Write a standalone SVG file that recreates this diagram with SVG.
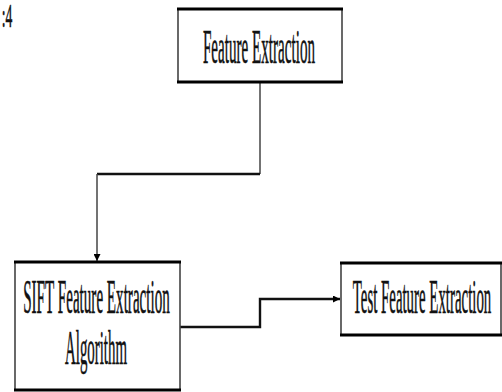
<svg xmlns="http://www.w3.org/2000/svg" width="502" height="392" viewBox="0 0 502 392">
  <style>
    .box { fill: #fff; stroke: #444; stroke-width: 1.6; }
    .edge { stroke: #000; stroke-width: 3.2; }
    .lbl { font-family: "Liberation Serif", "Times New Roman", serif; font-size: 48px; fill: #111; text-anchor: middle; stroke: #111; stroke-width: 0.6; }
    .wire { fill: none; stroke: #111; stroke-width: 2.4; }
    .thin { fill: none; stroke: #444; stroke-width: 1.5; }
  </style>
  <defs>
    <marker id="arrow" viewBox="0 0 10 10" refX="10" refY="5" markerWidth="7" markerHeight="7" markerUnits="userSpaceOnUse" orient="auto">
      <path d="M0,0 L10,5 L0,10 z" fill="#000"/>
    </marker>
  </defs>

  <!-- caption fragment at the top-left corner -->
  <text class="lbl" transform="translate(7,27) scale(0.4,1)" style="font-size:34px">:4</text>

  <g id="connectors">
    <path class="thin" d="M260,82 V174"/>
    <path class="wire" d="M260,174 H97"/>
    <path class="thin" d="M97,174 V261" marker-end="url(#arrow)"/>
    <path class="wire" d="M180,327 H260 V299 H340" marker-end="url(#arrow)"/>
  </g>

  <g id="feature-extraction">
    <rect class="box" x="178" y="9" width="164" height="73"/>
    <line class="edge" x1="177" y1="9" x2="343" y2="9"/>
    <line class="edge" x1="177" y1="82" x2="343" y2="82"/>
    <text class="lbl" transform="translate(259,63) scale(0.315,1)">Feature Extraction</text>
  </g>

  <g id="sift-algorithm">
    <rect class="box" x="15" y="262" width="165" height="128"/>
    <line class="edge" x1="14" y1="262" x2="181" y2="262"/>
    <line class="edge" x1="14" y1="390" x2="181" y2="390"/>
    <text class="lbl" transform="translate(96.5,313) scale(0.315,1)">SIFT Feature Extraction</text>
    <text class="lbl" transform="translate(96,364) scale(0.31,1)">Algorithm</text>
  </g>

  <g id="test-feature-extraction">
    <rect class="box" x="341" y="263" width="160" height="72"/>
    <line class="edge" x1="340" y1="263" x2="502" y2="263"/>
    <line class="edge" x1="340" y1="335" x2="502" y2="335"/>
    <text class="lbl" transform="translate(422,313) scale(0.31,1)">Test Feature Extraction</text>
  </g>
</svg>
